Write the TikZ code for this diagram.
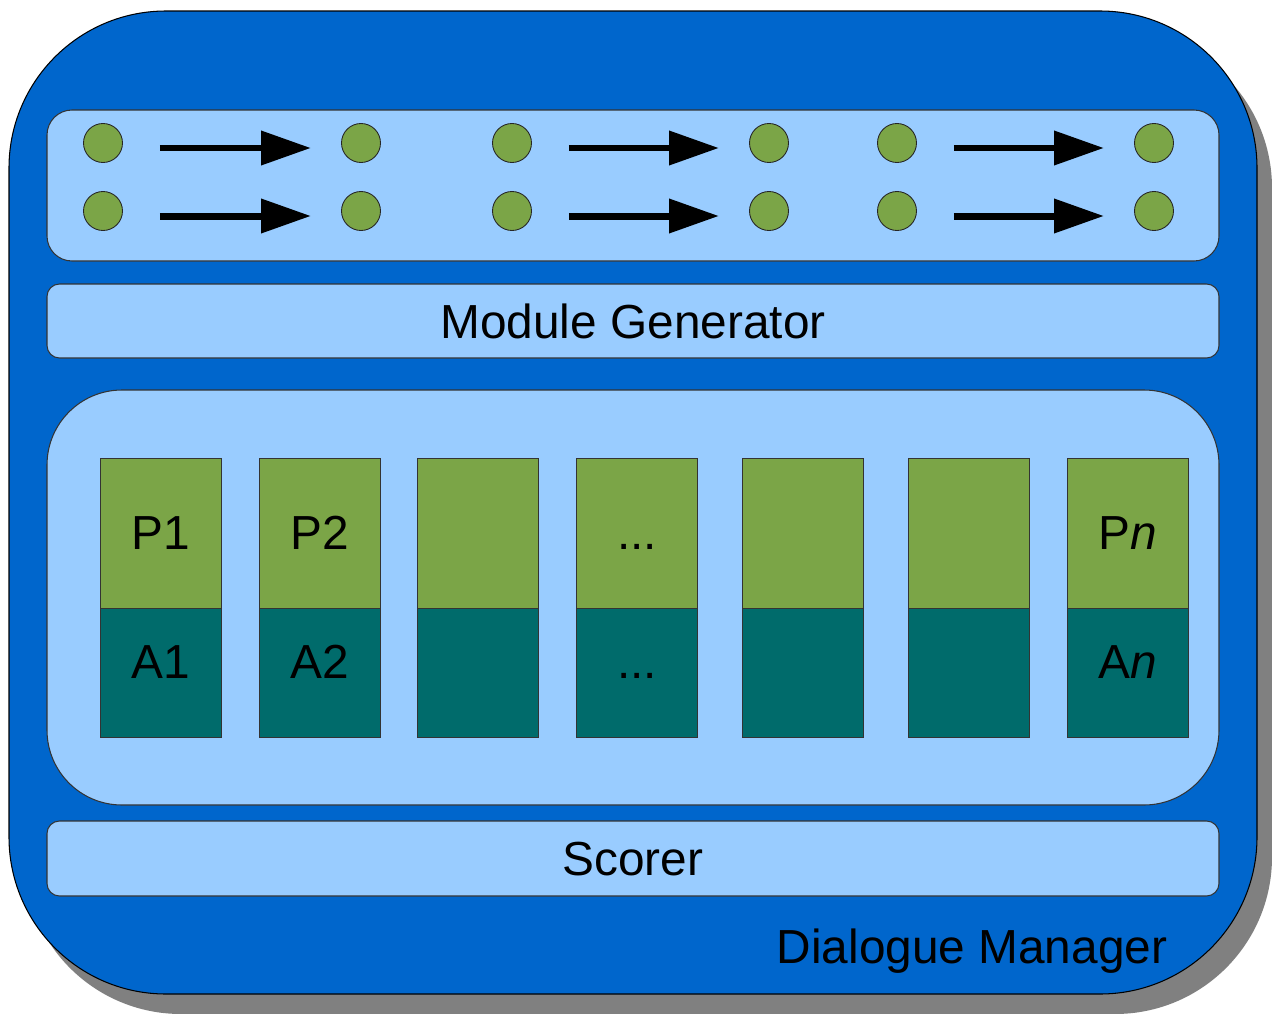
\documentclass[tikz,border=0pt]{standalone}
\usepackage{fontspec}
\setmainfont{Liberation Sans}
\usetikzlibrary{arrows.meta}
\definecolor{dmblue}{HTML}{0066CC}
\definecolor{panel}{HTML}{99CCFF}
\definecolor{leaf}{HTML}{7BA547}
\definecolor{deepteal}{HTML}{006B6B}
\definecolor{shadowgray}{HTML}{808080}
\begin{document}
\begin{tikzpicture}[x=0.02cm,y=-0.02cm,
  font=\fontsize{27.2}{32}\selectfont,
  panelbox/.style={draw=black!80, fill=panel, line width=0.6pt},
  dot/.style={circle, draw=black!85, fill=leaf, minimum size=0.78cm, inner sep=0pt, line width=0.5pt},
  flow/.style={line width=0.14cm, -{Triangle[length=1cm,width=0.66cm]}, shorten <=1.14cm, shorten >=1.0cm},
  ptop/.style={draw=black!80, fill=leaf, minimum width=2.42cm, minimum height=3cm, inner sep=0pt, anchor=north west, line width=0.5pt},
  abot/.style={draw=black!80, fill=deepteal, minimum width=2.42cm, minimum height=2.58cm, inner sep=0pt, anchor=north west, line width=0.5pt},
  lbl/.style={anchor=base, inner sep=0pt}]
\useasboundingbox (0,0) rectangle (1272,1014);

% dialogue manager container with its drop shadow
\fill[shadowgray, rounded corners=3.14cm] (24,31) rectangle (1272,1014);
\draw[fill=dmblue, rounded corners=3.14cm, line width=0.6pt] (9,11) rectangle (1257,994);

% panels
\draw[panelbox, rounded corners=0.5cm] (47,110) rectangle (1219,261);
\draw[panelbox, rounded corners=0.25cm] (47,284) rectangle (1219,358);
\draw[panelbox, rounded corners=1.5cm] (47,390) rectangle (1219,805);
\draw[panelbox, rounded corners=0.25cm] (47,821) rectangle (1219,896);

\node[lbl] (modgen) at (633,338) {Module Generator};
\node[lbl] (scorer) at (633,875) {Scorer};
\node[lbl] (dm) at (972,963) {Dialogue Manager};

% state transitions
\foreach \r/\y in {1/143, 2/211} {
  \node[dot] (a\r) at (103,\y) {};
  \node[dot] (b\r) at (361,\y) {};
  \node[dot] (c\r) at (512,\y) {};
  \node[dot] (d\r) at (769,\y) {};
  \node[dot] (e\r) at (897,\y) {};
  \node[dot] (f\r) at (1154,\y) {};
  \draw[flow] ([yshift=-0.1cm]a\r.center) -- ([yshift=-0.1cm]b\r.center);
  \draw[flow] ([yshift=-0.1cm]c\r.center) -- ([yshift=-0.1cm]d\r.center);
  \draw[flow] ([yshift=-0.1cm]e\r.center) -- ([yshift=-0.1cm]f\r.center);
}

% policy / action columns
\foreach \x/\p/\a/\i in {100/P1/A1/1, 259/P2/A2/2, 417/{}/{}/3, 576/{...}/{...}/4,
                         742/{}/{}/5, 908/{}/{}/6, 1067/{P\textit{n}}/{A\textit{n}}/7} {
  \node[ptop] (p\i) at (\x,458) {};
  \node[abot] (q\i) at (\x,608) {};
  \node[lbl] at ([yshift=-1.84cm]p\i.north) {\p};
  \node[lbl] at ([yshift=-1.42cm]q\i.north) {\a};
}
\end{tikzpicture}
\end{document}
